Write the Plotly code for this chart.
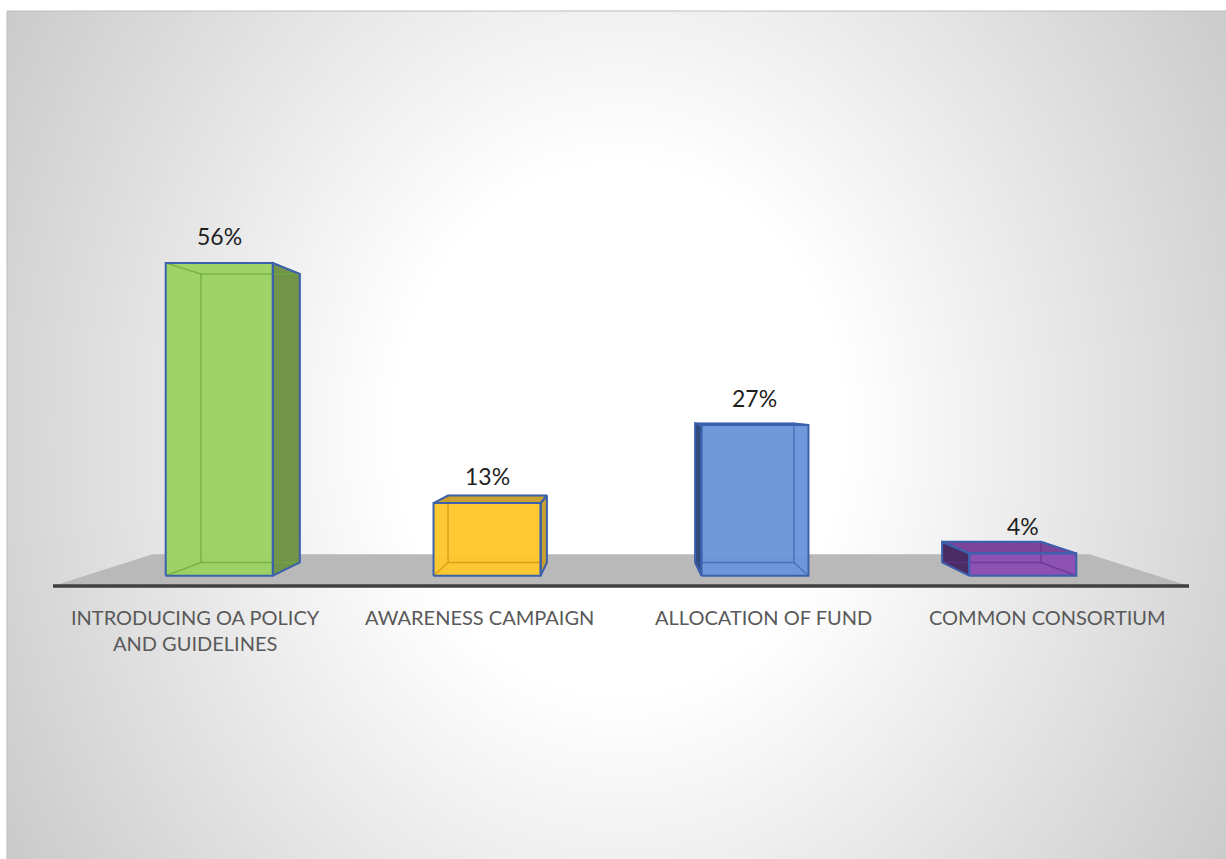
import base64
import struct
import zlib

import numpy as np
import plotly.graph_objects as go

# ---- data -----------------------------------------------------------------
categories = [
    "INTRODUCING OA POLICY<br>AND GUIDELINES",
    "AWARENESS CAMPAIGN",
    "ALLOCATION OF FUND",
    "COMMON CONSORTIUM",
]
values = [56, 13, 27, 4]
value_labels = ["56%", "13%", "27%", "4%"]

# ---- styles ---------------------------------------------------------------
front_colors = ["#9dd262", "#ffc72c", "#6a96da", "#8a4db3"]
side_colors = ["#72944a", "#c9a12e", "#2f4a7b", "#4b2b63"]
top_colors = ["#7fa84f", "#caa232", "#4c72b0", "#7a4599"]
inner_colors = ["rgba(110,170,60,0.75)", "rgba(200,150,20,0.75)",
                "rgba(50,90,170,0.6)", "rgba(100,50,140,0.7)"]
outline_color = "#3b61ad"
floor_color = "#b9b9b9"

W, H = 1226, 859

# ---- simple perspective model --------------------------------------------
# world: X across categories (0..4), Y in percent, Z depth (0 = front, 1 = back)
X_VP, Y_VP = 2.0, 30.6      # vanishing point in front-plane units
K = 0.212                   # depth foreshortening
BAR_HALF = 0.2
Z_FRONT, Z_BACK = 0.285, 0.705


def proj(X, Y, Z):
    f = 1.0 / (1.0 + K * Z)
    return X_VP + (X - X_VP) * f, Y_VP + (Y - Y_VP) * f


def poly(points):
    xs, ys = zip(*[proj(*p) for p in points])
    return list(xs) + [xs[0]], list(ys) + [ys[0]]


fig = go.Figure()

# floor
fx, fy = poly([(0, 0, 0), (4, 0, 0), (4, 0, 1), (0, 0, 1)])
fig.add_trace(go.Scatter(x=fx, y=fy, fill="toself", fillcolor=floor_color,
                         mode="lines", line=dict(width=0), hoverinfo="skip"))

for i, v in enumerate(values):
    xc = i + 0.5
    xl, xr = xc - BAR_HALF, xc + BAR_HALF
    zf, zb = Z_FRONT, Z_BACK
    front = [(xl, 0, zf), (xr, 0, zf), (xr, v, zf), (xl, v, zf)]
    back = [(xl, 0, zb), (xr, 0, zb), (xr, v, zb), (xl, v, zb)]
    right = [(xr, 0, zf), (xr, 0, zb), (xr, v, zb), (xr, v, zf)]
    left = [(xl, 0, zf), (xl, 0, zb), (xl, v, zb), (xl, v, zf)]
    top = [(xl, v, zf), (xr, v, zf), (xr, v, zb), (xl, v, zb)]

    visible = []
    if xr < X_VP:
        visible.append((right, side_colors[i]))
    if xl > X_VP:
        visible.append((left, side_colors[i]))
    if v < Y_VP:
        visible.append((top, top_colors[i]))

    for face, col in visible:
        px, py = poly(face)
        fig.add_trace(go.Scatter(x=px, y=py, fill="toself", fillcolor=col,
                                 mode="lines", line=dict(width=0),
                                 hoverinfo="skip"))
    px, py = poly(front)
    fig.add_trace(go.Scatter(x=px, y=py, fill="toself",
                             fillcolor=front_colors[i], mode="lines",
                             line=dict(width=0), opacity=0.97,
                             hoverinfo="skip"))

    # edges seen through the translucent faces
    ex, ey = [], []
    edges = [back] + [[front[k], back[k]] for k in range(4)]
    for e in edges:
        px, py = poly(e) if len(e) > 2 else zip(*[proj(*p) for p in e])
        ex += list(px) + [None]
        ey += list(py) + [None]
    fig.add_trace(go.Scatter(x=ex, y=ey, mode="lines",
                             line=dict(color=inner_colors[i], width=1.5),
                             hoverinfo="skip"))

    # outlines of visible faces
    ox, oy = [], []
    for face in [front] + [f for f, _ in visible]:
        px, py = poly(face)
        ox += px + [None]
        oy += py + [None]
    fig.add_trace(go.Scatter(x=ox, y=oy, mode="lines",
                             line=dict(color=outline_color, width=2),
                             hoverinfo="skip"))

    lx, ly = proj(xc, v, zf)
    fig.add_annotation(x=lx, y=ly, text=value_labels[i], showarrow=False,
                       yanchor="middle", yshift=27,
                       font=dict(family="Lato", size=23, color="#1f1f1f"))
    fig.add_annotation(x=xc, y=0, text=categories[i], showarrow=False,
                       yanchor="top", yshift=-17,
                       font=dict(family="Lato", size=20, color="#595959"))

# category axis line along the front of the floor
ax0, ay0 = proj(0, 0, 0)
ax1, ay1 = proj(4, 0, 0)
fig.add_trace(go.Scatter(x=[ax0, ax1], y=[ay0, ay1], mode="lines",
                         line=dict(color="#404040", width=3.5),
                         hoverinfo="skip"))


# ---- radial gradient backdrop for the chart area ---------------------------
def png_uri(gray):
    h, w = gray.shape
    raw = b"".join(b"\x00" + gray[r].tobytes() for r in range(h))

    def chunk(tag, data):
        c = struct.pack(">I", len(data)) + tag + data
        return c + struct.pack(">I", zlib.crc32(tag + data) & 0xFFFFFFFF)

    png = (b"\x89PNG\r\n\x1a\n"
           + chunk(b"IHDR", struct.pack(">IIBBBBB", w, h, 8, 0, 0, 0, 0))
           + chunk(b"IDAT", zlib.compress(raw, 9))
           + chunk(b"IEND", b""))
    return "data:image/png;base64," + base64.b64encode(png).decode()


AX, AY = 7, 11  # chart-area offset
gw, gh = (W - AX) // 2, (H - AY) // 2
gx = AX + (np.arange(gw) + 0.5) * (W - AX) / gw
gy = AY + (np.arange(gh) + 0.5) * (H - AY) / gh
GX, GY = np.meshgrid(gx, gy)
d = np.hypot(GX - 620, (GY - 430) * 0.85)
g = 255 - 0.108 * np.clip(d - 225, 0, None)
gray = np.clip(np.round(g), 0, 255).astype(np.uint8)

fig.add_layout_image(dict(source=png_uri(gray), xref="paper", yref="paper",
                          x=AX / W, y=1 - AY / H, sizex=(W - AX) / W,
                          sizey=(H - AY) / H, xanchor="left", yanchor="top",
                          sizing="stretch", layer="below"))
fig.add_shape(type="rect", xref="paper", yref="paper", x0=AX / W, y0=-0.01,
              x1=1.01, y1=1 - AY / H, line=dict(color="#bdbdbd", width=1),
              layer="below")

fig.update_layout(
    width=W, height=H, margin=dict(l=0, r=0, t=0, b=0),
    paper_bgcolor="white", plot_bgcolor="rgba(0,0,0,0)",
    showlegend=False,
    xaxis=dict(range=[-53 / 284, (W - 53) / 284], visible=False,
               fixedrange=True),
    yaxis=dict(range=[-(H - 586) / 5.92, 586 / 5.92], visible=False,
               fixedrange=True),
)

fig.write_html("out.html")
